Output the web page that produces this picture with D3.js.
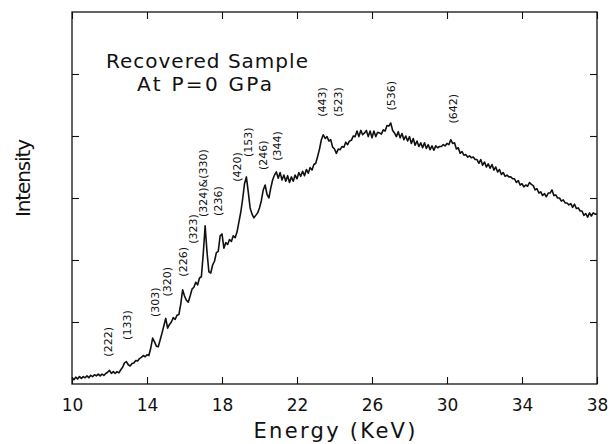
<!DOCTYPE html>
<html>
<head>
<meta charset="utf-8">
<script src="https://cdnjs.cloudflare.com/ajax/libs/d3/7.8.5/d3.min.js"></script>
<style>
	body { margin: 0; background: #fff; }
	#chart text { font-family: "DejaVu Sans", sans-serif; fill: #111; }
</style>
</head>
<body>
<div id="chart"></div>
<script>

// detector channels start at 10 keV, 0.1 keV apart
const energyStart = 10.0;
const energyStep = 0.1;

// intensity (arb. units), one row per keV, 10.0 ... 38.0
const intensity = [
	0.10, 0.07, 0.11, 0.08, 0.12, 0.09, 0.12, 0.10, 0.13, 0.10,
	0.14, 0.12, 0.15, 0.13, 0.16, 0.13, 0.16, 0.14, 0.17, 0.19,
	0.22, 0.17, 0.20, 0.17, 0.20, 0.18, 0.23, 0.27, 0.34, 0.36,
	0.31, 0.29, 0.33, 0.34, 0.38, 0.37, 0.41, 0.43, 0.46, 0.44,
	0.47, 0.46, 0.58, 0.74, 0.68, 0.61, 0.60, 0.71, 0.82, 0.94,
	1.06, 0.90, 0.96, 1.00, 1.07, 1.04, 1.11, 1.12, 1.29, 1.52,
	1.42, 1.35, 1.32, 1.42, 1.53, 1.56, 1.64, 1.60, 1.71, 1.73,
	2.10, 2.55, 2.13, 1.81, 1.79, 1.92, 1.98, 2.12, 2.14, 2.39,
	2.42, 2.19, 2.28, 2.25, 2.33, 2.30, 2.39, 2.36, 2.45, 2.61,
	2.77, 2.98, 3.23, 3.34, 3.10, 2.84, 2.74, 2.68, 2.72, 2.76,
	2.84, 2.96, 3.13, 3.21, 3.06, 3.00, 3.16, 3.29, 3.37, 3.42,
	3.32, 3.41, 3.29, 3.37, 3.27, 3.36, 3.25, 3.34, 3.27, 3.37,
	3.31, 3.41, 3.35, 3.43, 3.36, 3.46, 3.40, 3.49, 3.45, 3.54,
	3.56, 3.67, 3.79, 3.94, 4.02, 3.96, 3.99, 3.92, 3.94, 3.82,
	3.79, 3.72, 3.79, 3.78, 3.83, 3.82, 3.90, 3.86, 3.92, 3.93,
	4.00, 3.99, 4.08, 3.99, 4.09, 4.02, 4.05, 4.09, 3.99, 4.08,
	3.97, 4.08, 3.99, 4.06, 4.05, 4.03, 4.10, 4.08, 4.17, 4.16,
	4.21, 4.09, 4.05, 3.99, 4.07, 3.97, 4.04, 3.94, 4.00, 3.92,
	3.99, 3.88, 3.96, 3.85, 3.92, 3.83, 3.89, 3.81, 3.89, 3.80,
	3.86, 3.78, 3.84, 3.77, 3.84, 3.81, 3.83, 3.83, 3.86, 3.84,
	3.88, 3.86, 3.94, 3.88, 3.89, 3.79, 3.81, 3.72, 3.75, 3.69,
	3.70, 3.66, 3.68, 3.65, 3.66, 3.62, 3.62, 3.56, 3.62, 3.53,
	3.58, 3.50, 3.55, 3.48, 3.54, 3.45, 3.50, 3.42, 3.46, 3.38,
	3.41, 3.35, 3.37, 3.34, 3.34, 3.31, 3.31, 3.25, 3.28, 3.21,
	3.23, 3.18, 3.21, 3.19, 3.25, 3.22, 3.20, 3.13, 3.15, 3.08,
	3.10, 3.04, 3.07, 3.02, 3.08, 3.08, 3.13, 3.04, 3.05, 3.00,
	3.00, 2.95, 2.97, 2.92, 2.92, 2.89, 2.91, 2.85, 2.90, 2.83,
	2.84, 2.79, 2.79, 2.72, 2.75, 2.69, 2.76, 2.71, 2.76, 2.74,
	2.74
];

const xTicks = [10, 14, 18, 22, 26, 30, 34, 38];
const yTicks = [1, 2, 3, 4, 5];

// reflection labels: text, energy (keV) and level (arb. units) of the label centre
const peakLabels = ["(222)", "(133)", "(303)", "(320)", "(226)", "(323)", "(324)&(330)", "(236)",
	"(420)", "(153)", "(246)", "(344)", "(443)", "(523)", "(536)", "(642)"];
const peakEnergies = [11.92, 12.93, 14.43, 15.07, 15.92, 16.45, 16.99, 17.79,
	18.80, 19.39, 20.19, 20.93, 23.33, 24.19, 27.01, 30.32];
const peakLevels = [0.68, 0.95, 1.32, 1.65, 1.97, 2.50, 3.24, 2.95,
	3.50, 3.90, 3.69, 3.84, 4.55, 4.55, 4.65, 4.44];

const sampleNote = ["Recovered Sample", "At P=0 GPa"];


SpectrumChart = function(_parentElement, _intensity) {
	this.parentElement = _parentElement;
	this.intensity = _intensity;
	this.initVis();
}

SpectrumChart.prototype.initVis = function() {
	var vis = this;

	vis.margin = { top: 12, right: 13, bottom: 60, left: 72 };
	vis.width = 610 - vis.margin.left - vis.margin.right;
	vis.height = 444 - vis.margin.top - vis.margin.bottom;

	vis.svg = d3.select("#" + vis.parentElement).append("svg")
		.attr("width", vis.width + vis.margin.left + vis.margin.right)
		.attr("height", vis.height + vis.margin.top + vis.margin.bottom)
		.append("g")
		.attr("transform", "translate(" + vis.margin.left + "," + vis.margin.top + ")");

	vis.x = d3.scaleLinear().domain([10, 38]).range([0, vis.width]);
	vis.y = d3.scaleLinear().domain([0, 6]).range([vis.height, 0]);

	// ticks point inward on all four sides, only the bottom one is labelled
	vis.xAxis = d3.axisBottom(vis.x).tickValues(xTicks).tickSizeInner(-7).tickSizeOuter(0).tickPadding(15);
	vis.xAxisTop = d3.axisTop(vis.x).tickValues(xTicks).tickSizeInner(-7).tickSizeOuter(0).tickFormat("");
	vis.yAxis = d3.axisLeft(vis.y).tickValues(yTicks).tickSizeInner(-7).tickSizeOuter(0).tickFormat("");
	vis.yAxisRight = d3.axisRight(vis.y).tickValues(yTicks).tickSizeInner(-7).tickSizeOuter(0).tickFormat("");

	vis.wrangleData();
}

SpectrumChart.prototype.wrangleData = function() {
	var vis = this;

	vis.points = vis.intensity.map((v, i) => ({
		energy: energyStart + i * energyStep,
		value: v
	}));

	vis.labels = peakLabels.map((t, i) => ({ text: t, energy: peakEnergies[i], level: peakLevels[i] }));

	vis.updateVis();
}

SpectrumChart.prototype.updateVis = function() {
	var vis = this;

	vis.svg.append("g").attr("class", "axis x-axis")
		.attr("transform", "translate(0," + vis.height + ")")
		.call(vis.xAxis);
	vis.svg.append("g").attr("class", "axis").call(vis.xAxisTop);
	vis.svg.append("g").attr("class", "axis").call(vis.yAxis);
	vis.svg.append("g").attr("class", "axis")
		.attr("transform", "translate(" + vis.width + ",0)")
		.call(vis.yAxisRight);

	vis.svg.selectAll(".axis .domain").remove();
	vis.svg.selectAll(".axis line").attr("stroke", "#111").attr("stroke-width", 1.1);
	vis.svg.selectAll(".x-axis text")
		.attr("font-size", 17)
		.style("font-family", "DejaVu Sans, sans-serif");

	// frame
	vis.svg.append("rect")
		.attr("width", vis.width)
		.attr("height", vis.height)
		.attr("fill", "none")
		.attr("stroke", "#111")
		.attr("stroke-width", 1.3);

	var line = d3.line()
		.x(d => vis.x(d.energy))
		.y(d => vis.y(d.value));

	vis.svg.append("path")
		.datum(vis.points)
		.attr("fill", "none")
		.attr("stroke", "#111")
		.attr("stroke-width", 1.6)
		.attr("stroke-linejoin", "round")
		.attr("d", line);

	// reflection labels, rotated to read upward
	vis.svg.selectAll(".peak-label").data(vis.labels).enter().append("text")
		.attr("class", "peak-label")
		.attr("font-size", 11)
		.attr("text-anchor", "middle")
		.attr("transform", d => "translate(" + (vis.x(d.energy) + 4) + "," + vis.y(d.level) + ") rotate(-90)")
		.text(d => d.text);

	vis.svg.append("text")
		.attr("x", vis.x(11.81))
		.attr("y", vis.y(5.10))
		.attr("font-size", 20)
		.attr("textLength", 202)
		.attr("lengthAdjust", "spacing")
		.text(sampleNote[0]);

	vis.svg.append("text")
		.attr("x", vis.x(13.47))
		.attr("y", vis.y(4.73))
		.attr("font-size", 20)
		.attr("textLength", 135)
		.attr("lengthAdjust", "spacing")
		.text(sampleNote[1]);

	// axis titles
	vis.svg.append("text")
		.attr("x", vis.width / 2)
		.attr("y", vis.height + 54)
		.attr("text-anchor", "middle")
		.attr("font-size", 21)
		.attr("textLength", 162)
		.attr("lengthAdjust", "spacing")
		.text("Energy (KeV)");

	vis.svg.append("text")
		.attr("transform", "translate(-42," + (vis.height / 2 - 20) + ") rotate(-90)")
		.attr("text-anchor", "middle")
		.attr("font-size", 20)
		.attr("textLength", 78)
		.attr("lengthAdjust", "spacing")
		.text("Intensity");
}

new SpectrumChart("chart", intensity);

</script>
</body>
</html>
